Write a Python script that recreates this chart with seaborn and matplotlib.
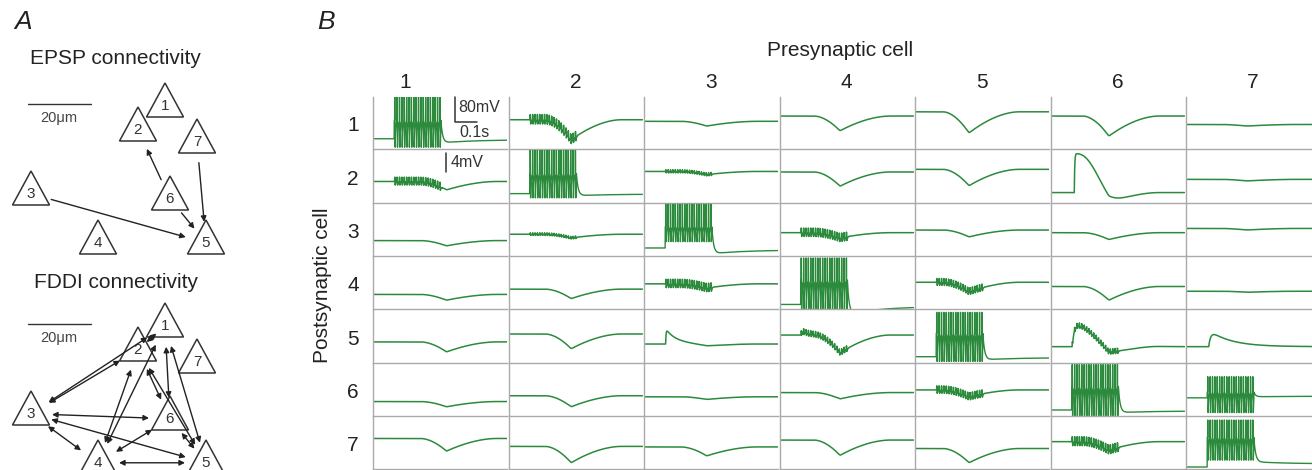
import numpy as np
import matplotlib
matplotlib.use("Agg")
import matplotlib.pyplot as plt
import seaborn as sns
from matplotlib.patches import Polygon
from itertools import combinations

sns.set_style("white")
plt.rcParams['font.family'] = ['Liberation Sans', 'DejaVu Sans']

# ---------------- data ----------------
CELLS = ["1", "2", "3", "4", "5", "6", "7"]

# Panel A: neuron layout (apex of each triangle, pixels) and connections
NODE_X = [165, 138, 31, 98, 206, 170, 197]
NODE_Y = [83, 107, 171, 220, 220, 176, 119]
FDDI_SHIFT = 220
EPSP_EDGES = [(6, 2), (7, 5), (3, 5), (6, 5)]
FDDI_EDGES = list(combinations([1, 2, 3, 4, 5, 6], 2))

# Panel B: traces (levels are fractions of each cell's height)
T_END = 0.62
STIM_ON = 0.10
STIM_PERIOD = 0.011
N_SPIKES = 20

BASE = [
    [0.20, 0.56, 0.53, 0.63, 0.71, 0.63, 0.47],
    [0.40, 0.17, 0.59, 0.58, 0.63, 0.19, 0.44],
    [0.29, 0.41, 0.15, 0.44, 0.49, 0.44, 0.52],
    [0.28, 0.38, 0.48, 0.09, 0.51, 0.43, 0.34],
    [0.39, 0.54, 0.35, 0.52, 0.11, 0.30, 0.30],
    [0.27, 0.38, 0.36, 0.44, 0.49, 0.11, 0.34],
    [0.58, 0.43, 0.42, 0.55, 0.39, 0.52, 0.04],
]
DIP = [
    [0.00, 0.38, 0.09, 0.28, 0.40, 0.38, 0.03],
    [0.16, 0.00, 0.06, 0.27, 0.31, 0.20, 0.03],
    [0.10, 0.07, 0.00, 0.10, 0.13, 0.13, 0.03],
    [0.11, 0.18, 0.08, 0.00, 0.18, 0.26, 0.02],
    [0.19, 0.28, 0.04, 0.34, 0.00, 0.22, 0.00],
    [0.10, 0.21, 0.05, 0.12, 0.13, 0.00, 0.00],
    [0.24, 0.31, 0.17, 0.29, 0.27, 0.16, 0.00],
]
DIP_TMIN = [0.34, 0.29, 0.29, 0.28, 0.25, 0.27, 0.28]
RIPPLE = [
    [0, 0.18, 0, 0, 0, 0, 0],
    [0.15, 0, 0.06, 0, 0, 0, 0],
    [0, 0.05, 0, 0.16, 0, 0, 0],
    [0, 0, 0.16, 0, 0.13, 0, 0],
    [0, 0, 0, 0.11, 0, 0.10, 0],
    [0, 0, 0, 0, 0.14, 0, 0],
    [0, 0, 0, 0, 0, 0.17, 0],
]
EPSP_CELLS = [(2, 6), (5, 3), (5, 4), (5, 6), (5, 7)]
EPSP_ONSET = [0.11, 0.10, 0.10, 0.10, 0.105]
EPSP_AMP = [0.74, 0.29, 0.09, 0.46, 0.32]
EPSP_RISE = [0.002, 0.002, 0.003, 0.010, 0.010]
EPSP_DECAY = [0.13, 0.05, 0.03, 0.14, 0.10]
EPSP_POWER = [2.5, 1.0, 1.0, 1.5, 1.0]

SPIKE_CELLS = [(1, 1), (2, 2), (3, 3), (4, 4), (5, 5), (6, 6), (6, 7), (7, 7)]
SPIKE_TOP = [1.00, 1.00, 0.98, 0.97, 0.95, 0.97, 0.74, 0.93]
SPIKE_LOW = [0.04, 0.09, 0.27, 0.00, 0.02, 0.00, 0.06, 0.17]
SPIKE_PLATEAU = [0.55, 0.55, 0.55, 0.55, 0.55, 0.55, 0.45, 0.60]
SPIKE_AFTER = [0.12, 0.13, 0.04, -0.10, 0.05, 0.06, 0.36, 0.14]
SPIKE_FINAL = [0.18, 0.16, 0.11, 0.05, 0.09, 0.09, 0.37, 0.10]

SCALE_T = 0.1
SCALE_BIG = "80mV"
SCALE_SMALL = "4mV"

GREEN = "#2b8a3c"
SPINE = "#aaaaaa"
INK = "#222222"

# ---------------- helpers ----------------
t = np.arange(0, T_END, 0.0002)
spike_t = STIM_ON + np.arange(N_SPIKES) * STIM_PERIOD


def vdip(tt, t0, tm, t1):
    """V-shaped hyperpolarisation: smooth onset/offset, slightly rounded trough"""
    f = np.zeros_like(tt)
    a = (tt >= t0) & (tt < tm)
    x = (tt[a] - t0) / (tm - t0)
    f[a] = x ** 1.8
    b = (tt >= tm) & (tt < t1)
    y = (tt[b] - tm) / (t1 - tm)
    f[b] = (1 - y) ** 1.8
    k = 45
    ker = np.ones(k) / k
    return np.convolve(f, ker, mode="same")


def pulse(s, top, low, rise=0.0006, fall=0.0018, rec=0.0025):
    """one action-potential-like deflection relative to 0"""
    out = np.zeros_like(s)
    r = (s >= 0) & (s < rise)
    out[r] = top * s[r] / rise
    f = (s >= rise) & (s < rise + fall)
    out[f] = top + (low - top) * (s[f] - rise) / fall
    c = s >= rise + fall
    out[c] = low * np.exp(-(s[c] - rise - fall) / rec)
    return out


def spike_trace(k, b):
    top, low, P = SPIKE_TOP[k], SPIKE_LOW[k], SPIKE_PLATEAU[k]
    after, final = SPIKE_AFTER[k], SPIKE_FINAL[k]
    v = np.full_like(t, b)
    on = STIM_ON - 0.002
    t_off = spike_t[-1] + 0.005
    m = (t >= on) & (t < t_off)
    v[m] = P
    for tk in spike_t:
        s = t - tk
        mm = (s >= 0) & (s < STIM_PERIOD) & (t < t_off)
        v[mm] = P + pulse(s[mm], top - P, low - P)
    m2 = t >= t_off
    s = t[m2] - t_off
    slow = after + (final - after) * (1 - np.exp(-s / 0.15))
    v[m2] = slow + (P - slow) * np.exp(-s / 0.008)
    return v


def cell_trace(i, j):
    key = (i + 1, j + 1)
    b = BASE[i][j]
    if key in SPIKE_CELLS:
        return spike_trace(SPIKE_CELLS.index(key), b)
    tm = DIP_TMIN[j]
    v = b - DIP[i][j] * vdip(t, tm - 0.12, tm, tm + 0.23)
    if key in EPSP_CELLS:
        k = EPSP_CELLS.index(key)
        s = t - EPSP_ONSET[k]
        m = s > 0
        v[m] += (EPSP_AMP[k] * (1 - np.exp(-s[m] / EPSP_RISE[k]))
                 * np.exp(-(s[m] / EPSP_DECAY[k]) ** EPSP_POWER[k]))
    r = RIPPLE[i][j]
    if r > 0:
        for tk in spike_t:
            s = t - tk
            m = (s >= 0) & (s < STIM_PERIOD)
            v[m] += pulse(s[m], 0.55 * r, -0.45 * r, rise=0.0008, fall=0.002, rec=0.003)
    return v


# ---------------- figure ----------------
W, H = 1312, 470
fig = plt.figure(figsize=(W / 100, H / 100), dpi=100)

ov = fig.add_axes([0, 0, 1, 1])
ov.set_xlim(0, W)
ov.set_ylim(H, 0)
ov.axis("off")

# ----- Panel A -----
TRI_HW, TRI_H = 18.5, 34


def draw_network(dy, edges, both):
    cx = np.array(NODE_X, float)
    cy = np.array(NODE_Y, float) + dy + 0.67 * TRI_H
    for n in range(len(CELLS)):
        ax_, ay_ = NODE_X[n], NODE_Y[n] + dy
        tri = Polygon([[ax_, ay_], [ax_ - TRI_HW, ay_ + TRI_H], [ax_ + TRI_HW, ay_ + TRI_H]],
                      closed=True, fill=True, facecolor="white", edgecolor="#333333", lw=1.1, zorder=3)
        ov.add_patch(tri)
        ov.text(ax_, ay_ + 23, CELLS[n], ha="center", va="center", fontsize=11, color="#333333", zorder=4)
    for a, b in edges:
        p, q = np.array([cx[a - 1], cy[a - 1]]), np.array([cx[b - 1], cy[b - 1]])
        d = np.linalg.norm(q - p)
        u = (q - p) / d
        trim = min(21.0, 0.32 * d)
        p2, q2 = p + u * trim, q - u * trim
        ov.annotate("", xy=q2, xytext=p2,
                    arrowprops=dict(arrowstyle="<|-|>" if both else "-|>", color=INK, lw=1.0,
                                    mutation_scale=8, shrinkA=0, shrinkB=0), zorder=5)


ov.text(14, 22, "A", fontsize=19, style="italic", ha="left", va="center", color=INK)
ov.text(30, 59, "EPSP connectivity", fontsize=15, ha="left", va="center", color=INK)
ov.text(34, 283, "FDDI connectivity", fontsize=15, ha="left", va="center", color=INK)
for dy in (0, FDDI_SHIFT):
    ov.plot([28, 91], [104 + dy, 104 + dy], color="#333333", lw=1.0)
    ov.text(59, 118 + dy, "20\u03bcm", fontsize=10.5, ha="center", va="center", color="#444444")
draw_network(0, EPSP_EDGES, False)
draw_network(FDDI_SHIFT, FDDI_EDGES, True)

# ----- Panel B -----
COL_L0, COL_STEP, CELL_W = 373, 135.5, 134
ROW_T0, ROW_STEP, CELL_H = 96.5, 53.3, 52.8

ov.text(317, 22, "B", fontsize=19, style="italic", ha="left", va="center", color=INK)
ov.text(840, 51, "Presynaptic cell", fontsize=15, ha="center", va="center", color=INK)
ov.text(322, 285, "Postsynaptic cell", fontsize=15, ha="center", va="center", rotation=90, color=INK)

HEADER_XFRAC = [0.24, 0.5, 0.5, 0.5, 0.5, 0.5, 0.5]
for j in range(7):
    ov.text(COL_L0 + COL_STEP * j + HEADER_XFRAC[j] * CELL_W, 82, CELLS[j],
            fontsize=15, ha="center", va="center", color=INK)
for i in range(7):
    ov.text(353, ROW_T0 + ROW_STEP * i + CELL_H / 2 + 3, CELLS[i],
            fontsize=15, ha="center", va="center", color=INK)

axes = {}
for i in range(7):
    for j in range(7):
        x0 = COL_L0 + COL_STEP * j
        y0 = ROW_T0 + ROW_STEP * i
        ax = fig.add_axes([x0 / W, 1 - (y0 + CELL_H) / H, CELL_W / W, CELL_H / H])
        v = cell_trace(i, j)
        lw = 1.0 if (i + 1, j + 1) in SPIKE_CELLS else 1.1
        sns.lineplot(x=t, y=v, ax=ax, color=GREEN, linewidth=lw,
                     estimator=None, sort=False, legend=False)
        ax.set_xlim(0, T_END)
        ax.set_ylim(0, 1)
        ax.set_xticks(np.arange(0.1, 0.61, 0.1))
        ax.set_yticks(np.arange(0.125, 1.0, 0.125))
        ax.set_xticklabels([])
        ax.set_yticklabels([])
        ax.set_xlabel("")
        ax.set_ylabel("")
        ax.tick_params(direction="in", length=2.5, width=0.7, color=SPINE)
        for side in ("top", "right"):
            ax.spines[side].set_visible(False)
        for side in ("left", "bottom"):
            ax.spines[side].set_color(SPINE)
            ax.spines[side].set_linewidth(1.0)
        ax.patch.set_alpha(0)
        axes[(i, j)] = ax

# scale bars
a11 = axes[(0, 0)]
a11.plot([0.38, 0.38, 0.38 + SCALE_T], [1.0, 0.51, 0.51], color="#333333", lw=1.1,
         clip_on=False, zorder=6)
a11.text(0.393, 0.80, SCALE_BIG, fontsize=11.5, ha="left", va="center", color="#333333", zorder=6)
a11.text(0.40, 0.32, "0.1s", fontsize=11.5, ha="left", va="center", color="#333333", zorder=6)
a21 = axes[(1, 0)]
a21.plot([0.338, 0.338], [0.94, 0.58], color="#333333", lw=1.1, clip_on=False, zorder=6)
a21.text(0.357, 0.76, SCALE_SMALL, fontsize=11.5, ha="left", va="center", color="#333333", zorder=6)

fig.savefig("out.png", dpi=100)
